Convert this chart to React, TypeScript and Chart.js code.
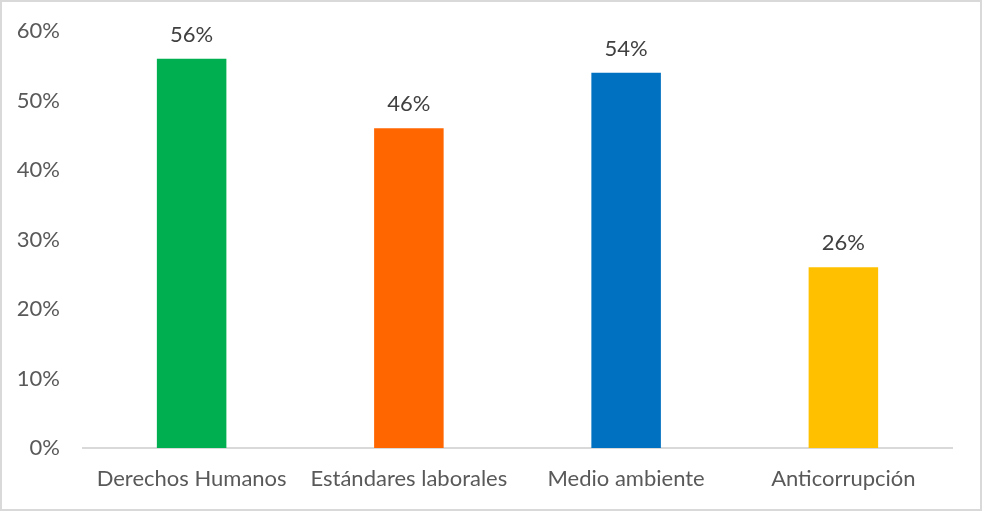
import React, { useEffect, useRef } from "react";
import { Chart, registerables } from "chart.js";

Chart.register(...registerables);

const categories = ["Derechos Humanos", "Estándares laborales", "Medio ambiente", "Anticorrupción"];
const values = [56, 46, 54, 26];
const barColors = ["#00B050", "#FF6600", "#0070C0", "#FFC000"];
const yTicks = [0, 10, 20, 30, 40, 50, 60];

const FONT = "Lato, 'Liberation Sans', sans-serif";

const borderPlugin = {
  id: "frameBorder",
  afterDraw(chart: any) {
    const ctx = chart.ctx;
    ctx.save();
    ctx.strokeStyle = "#d9d9d9";
    ctx.lineWidth = 2;
    ctx.strokeRect(1, 1, chart.width - 2, chart.height - 2);
    ctx.restore();
  },
};

const labelPlugin = {
  id: "barValueLabels",
  afterDatasetsDraw(chart: any) {
    const ctx = chart.ctx;
    const meta = chart.getDatasetMeta(0);
    ctx.save();
    ctx.fillStyle = "#404040";
    ctx.font = `22px ${FONT}`;
    ctx.textAlign = "center";
    ctx.textBaseline = "alphabetic";
    meta.data.forEach((bar: any, i: number) => {
      ctx.fillText(`${values[i]}%`, bar.x, bar.y - 17);
    });
    ctx.restore();
  },
};

export default function App() {
  const ref = useRef<HTMLCanvasElement>(null);
  useEffect(() => {
    document.body.style.margin = "0";
    const chart = new Chart(ref.current!, {
      type: "bar",
      data: {
        labels: categories,
        datasets: [
          {
            data: values,
            backgroundColor: barColors,
            borderWidth: 0,
            categoryPercentage: 1,
            barPercentage: 0.32,
          },
        ],
      },
      options: {
        responsive: false,
        animation: false,
        layout: { padding: { top: 31, right: 30, bottom: 0, left: 0 } },
        plugins: { legend: { display: false }, tooltip: { enabled: false } },
        scales: {
          x: {
            grid: { display: false },
            border: { display: true, color: "#d9d9d9", width: 2 },
            ticks: {
              color: "#595959",
              font: { family: FONT, size: 22 },
              padding: 10,
              maxRotation: 0,
            },
            afterFit(scale: any) {
              scale.height = 63;
              scale.paddingLeft = 0;
              scale.paddingRight = 0;
            },
          },
          y: {
            min: 0,
            max: 60,
            grid: { display: false, drawTicks: false },
            border: { display: false },
            afterBuildTicks(scale: any) {
              scale.ticks = yTicks.map((v) => ({ value: v }));
            },
            ticks: {
              color: "#595959",
              font: { family: FONT, size: 22 },
              padding: 23,
              callback: (v: any) => `${v}%`,
            },
            afterFit(scale: any) {
              scale.width = 83;
              scale.paddingTop = 0;
              scale.paddingBottom = 0;
            },
          },
        },
      },
      plugins: [borderPlugin, labelPlugin],
    });
    return () => chart.destroy();
  }, []);
  return <canvas ref={ref} width={982} height={511} style={{ display: "block" }} />;
}
